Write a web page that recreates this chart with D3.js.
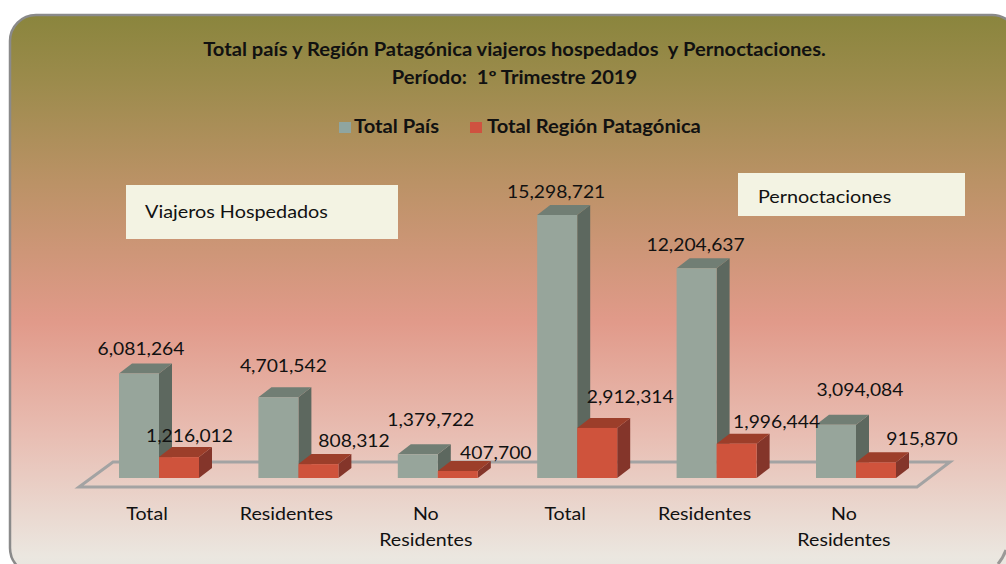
<!DOCTYPE html>
<html><head><meta charset="utf-8">
<script src="https://cdn.jsdelivr.net/npm/d3@7"></script>
<style>html,body{margin:0;padding:0;background:#fff}svg{display:block}text{font-family:Lato,sans-serif;fill:#111;white-space:pre}</style>
</head><body><svg id="c" width="1006" height="564"></svg>
<script>
const categories = ["Total","Residentes","No Residentes","Total","Residentes","No Residentes"];
const totalPais = [6081264,4701542,1379722,15298721,12204637,3094084];
const totalRegion = [1216012,808312,407700,2912314,1996444,915870];
const seriesNames = ["Total País","Total Región Patagónica"];
const titleLines = ["Total país y Región Patagónica viajeros hospedados  y Pernoctaciones.","Período:  1º Trimestre 2019"];
const noteLabels = ["Viajeros Hospedados","Pernoctaciones"];
const fmt = d3.format(",");
const svg = d3.select("#c");
const defs = svg.append("defs");
const g = defs.append("linearGradient").attr("id","bg").attr("x1",0).attr("x2",0).attr("y1",0).attr("y2",1);
[[0,"#8a853d"],[0.12,"#9c8b4c"],[0.3,"#bb9266"],[0.55,"#e19a8a"],[0.75,"#e8bdb2"],[0.97,"#ebe7e0"],[1,"#e6e4de"]].forEach(s=>g.append("stop").attr("offset",s[0]).attr("stop-color",s[1]));
svg.append("rect").attr("x",10).attr("y",15).attr("width",1008).attr("height",559).attr("rx",26).attr("fill","url(#bg)").attr("stroke","#8a8a8a").attr("stroke-width",2.5);
svg.append("path").attr("d","M1006,550Q1003,558 998,564").attr("fill","none").attr("stroke","#777").attr("stroke-width",3).attr("opacity",0.7);

// text stretched horizontally, as the picture's text is
function label(x,y,str,size,ratio,anchor,weight){
  const t=svg.append("text").attr("x",x).attr("y",y).attr("font-size",size).attr("text-anchor",anchor||"start").attr("font-weight",weight||400).text(str);
  const w=t.node().getComputedTextLength();
  t.attr("textLength",w*ratio).attr("lengthAdjust","spacingAndGlyphs");
  return t;
}
titleLines.forEach((t,i)=>label(514.5,[56,84][i],t,18,1.12,"middle",700));

// legend
[[339,seriesNames[0],"#8fa5a0",354],[470,seriesNames[1],"#cf5240",487]].forEach(l=>{
  svg.append("rect").attr("x",l[0]).attr("y",122).attr("width",12).attr("height",11).attr("fill",l[2]);
  label(l[3],133,l[1],18,1.12,"start",700);
});

// note boxes
[[126,185,272,54,noteLabels[0],145,218],[738,173,227,43,noteLabels[1],758,203]].forEach(b=>{
  svg.append("rect").attr("x",b[0]).attr("y",b[1]).attr("width",b[2]).attr("height",b[3]).attr("fill","#f3f3e3");
  label(b[5],b[6],b[4],18,1.1);
});

const x = d3.scalePoint().domain(d3.range(categories.length)).range([159,856]);
const barW = 40, depthX = 13, depthY = 10;
const y = d3.scaleLinear().domain([0,15298721]).range([478,215]);

// floor
svg.append("path").attr("d",d3.line()([[79,487],[917,487],[950,462],[113,462]])+"Z").attr("fill","none").attr("stroke","#a3a3a3").attr("stroke-width",3);

function bar(px,val,front,top,side){
  const py=y(val), b=y(0), G=svg.append("g");
  G.append("path").attr("d",d3.line()([[px+barW,py],[px+barW+depthX,py-depthY],[px+barW+depthX,b-depthY],[px+barW,b]])+"Z").attr("fill",side);
  G.append("path").attr("d",d3.line()([[px,py],[px+depthX,py-depthY],[px+barW+depthX,py-depthY],[px+barW,py]])+"Z").attr("fill",top);
  G.append("rect").attr("x",px).attr("y",py).attr("width",barW).attr("height",b-py).attr("fill",front);
}
categories.forEach((c,i)=>{
  bar(x(i)-barW,totalPais[i],"#97a59b","#717e74","#5d685f");
  bar(x(i),totalRegion[i],"#cf533c","#9c3e2a","#84352a");
});

// value labels: placement relative to the top of each bar
const offA=[[-18,-18.5],[-15,-25],[-7,-28],[-21,-17],[-21,-17],[4,-29]];
const offB=[[30.5,-15],[55.6,-17],[58,-12],[53,-25],[60,-16],[66,-17]];
categories.forEach((c,i)=>{
  label(x(i)+offA[i][0],y(totalPais[i])+offA[i][1],fmt(totalPais[i]),18,1.07,"middle");
  label(x(i)+offB[i][0],y(totalRegion[i])+offB[i][1],fmt(totalRegion[i]),18,1.07,"middle");
  const words=c==="No Residentes"?["No","Residentes"]:[c];
  words.forEach((w,k)=>label(x(i)-12,520+k*26,w,18,1.09,"middle"));
});
</script></body></html>
